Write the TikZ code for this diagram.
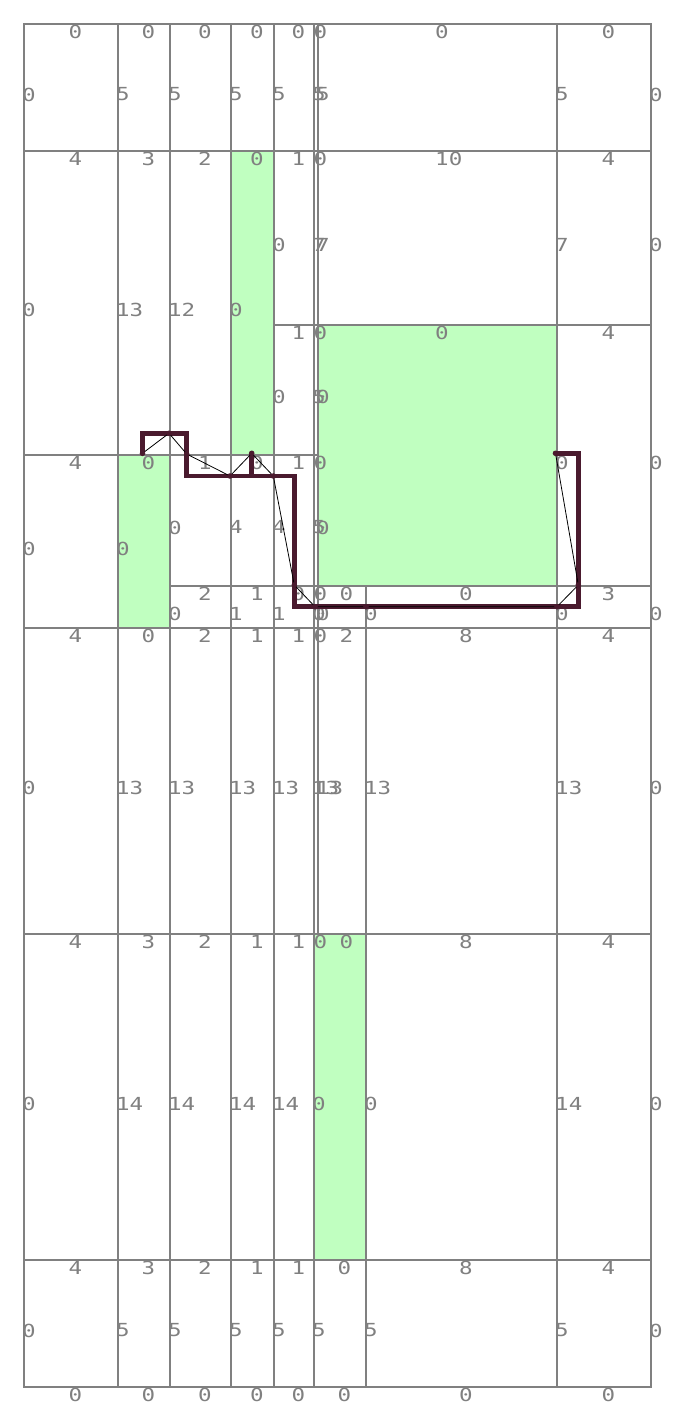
\documentclass[tikz,border=0pt]{standalone}
\usepackage{fontspec}
\usepackage{xcolor}
\newfontfamily\gridfont[FakeStretch=1.25]{DejaVu Sans Mono}
\definecolor{gridgray}{RGB}{128,128,128}
\definecolor{holegreen}{RGB}{192,255,192}
\definecolor{routeplum}{RGB}{74,26,46}

\newcommand\gridcells{%
24/24/118/151/0/0, 118/24/170/151/0/5, 170/24/231/151/0/5, 231/24/274/151/0/5, 274/24/314/151/0/5, 314/24/318/151/0/5, 318/24/557/151/0/5, 557/24/651/151/0/5,
24/151/118/455/4/0, 118/151/170/455/3/13, 170/151/231/455/2/12, 231/151/274/455/0/0, 274/151/314/325/1/0, 314/151/318/325/0/7, 318/151/557/325/10/7, 557/151/651/325/4/7,
274/325/314/455/1/0, 314/325/318/455/0/5, 318/325/557/455/0/0, 557/325/651/586/4/0,
24/455/118/628/4/0, 118/455/170/628/0/0, 170/455/231/586/1/0, 231/455/274/586/0/4, 274/455/314/586/1/4, 314/455/318/586/0/5, 318/455/557/586//0,
170/586/231/628/2/0, 231/586/274/628/1/1, 274/586/314/628/0/1, 314/586/318/628/0/0, 318/586/366/628/0/0, 366/586/557/628/0/0, 557/586/651/628/3/0,
24/628/118/934/4/0, 118/628/170/934/0/13, 170/628/231/934/2/13, 231/628/274/934/1/13, 274/628/314/934/1/13, 314/628/318/934/0/13, 318/628/366/934/2/13, 366/628/557/934/8/13, 557/628/651/934/4/13,
24/934/118/1260/4/0, 118/934/170/1260/3/14, 170/934/231/1260/2/14, 231/934/274/1260/1/14, 274/934/314/1260/1/14, 314/934/318/1260/0/0, 318/934/366/1260/0/, 366/934/557/1260/8/0, 557/934/651/1260/4/14,
24/1260/118/1387/4/0, 118/1260/170/1387/3/5, 170/1260/231/1387/2/5, 231/1260/274/1387/1/5, 274/1260/314/1387/1/5, 314/1260/366/1387/0/5, 366/1260/557/1387/8/5, 557/1260/651/1387/4/5}

\begin{document}
\begin{tikzpicture}[x=1pt, y=-1pt,
    cellbox/.style={draw=gridgray, line width=2pt},
    freecell/.style={cellbox, fill=holegreen},
    toplbl/.style={anchor=north west, inner sep=0pt, text=gridgray,
                   font=\gridfont\fontsize{18}{18}\selectfont},
    sidelbl/.style={toplbl},
    route/.style={draw=routeplum, line width=4.5pt},
    chord/.style={draw=black, line width=0.8pt}
  ]
  \useasboundingbox (0,0) rectangle (677,1414);

  \foreach \xa/\ya/\xb/\yb/\lbtop/\lbside in \gridcells
    \draw[cellbox] (\xa,\ya) rectangle (\xb,\yb);

  \foreach \xa/\ya/\xb/\yb in {231/151/274/455, 318/325/557/586, 118/455/170/628, 314/934/366/1260}
    \draw[freecell] (\xa,\ya) rectangle (\xb,\yb);

  \foreach \xa/\ya/\xb/\yb/\lbtop/\lbside [count=\k] in \gridcells {
    \ifx\lbtop\empty\else
      \node[toplbl] (t\k) at ({(\xa+\xb)/2-2.5},{\ya+0.8}) {\lbtop};
    \fi
    \ifx\lbside\empty\else
      \node[sidelbl] (s\k) at ({\xa-2},{(\ya+\yb)/2}) {\lbside};
    \fi
  }
  \foreach \ym [count=\k] in {87.5,238,455.5,607,781,1097,1323.5}
    \node[sidelbl] (r\k) at (649,\ym) {0};
  \foreach \xm [count=\k] in {71,144,200.5,252.5,294,340,461.5,604}
    \node[toplbl] (b\k) at (\xm-2.5,1387.8) {0};

  \coordinate (p1) at (142.5,453.3);
  \coordinate (p2) at (169,433.3);
  \coordinate (p3) at (186.7,454);
  \coordinate (p4) at (230,476);
  \coordinate (p5) at (251.7,453.3);
  \coordinate (p6) at (273.3,476);
  \coordinate (p7) at (294.3,585);
  \coordinate (p8) at (315,606.7);
  \coordinate (p9) at (366,606.7);
  \coordinate (p10) at (557,606.7);
  \coordinate (p11) at (578.3,585);
  \coordinate (p12) at (555.5,453.3);

  \draw[route] (p1) |- (p2) -| (p3) |- (p4) -| (p5) |- (p6) -| (p7) |- (p8)
    -- (p9) -- (p10) -| (p11) |- (p12);
  \draw[chord] (p1) -- (p2) -- (p3) -- (p4) -- (p5) -- (p6) -- (p7) -- (p8)
    -- (p9) -- (p10) -- (p11) -- (p12);
  \foreach \k in {1,...,12}
    \fill[routeplum] (p\k) circle (2.8);
\end{tikzpicture}
\end{document}
